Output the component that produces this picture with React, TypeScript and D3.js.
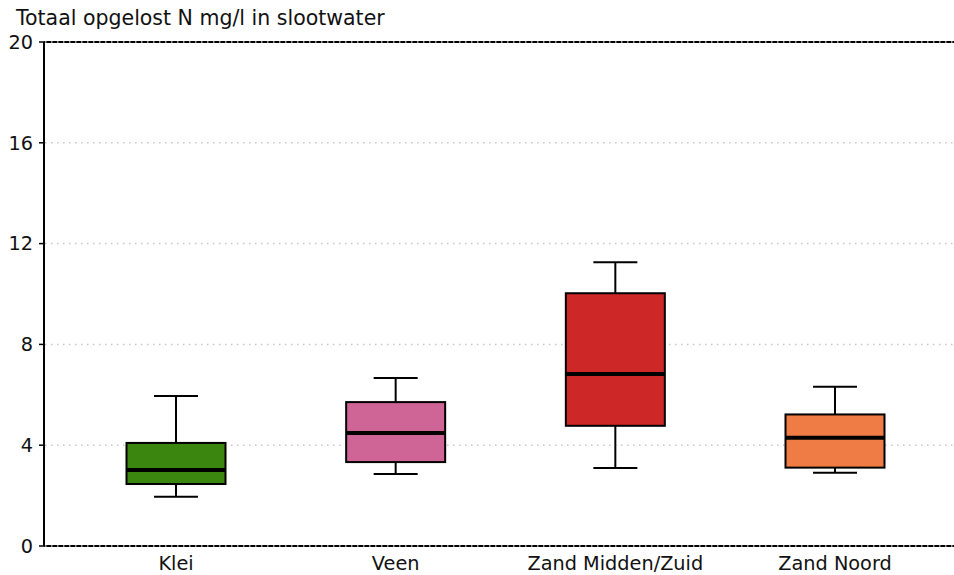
import React from "react";
import * as d3 from "d3";

const categories = ["Klei", "Veen", "Zand Midden/Zuid", "Zand Noord"];
const whiskerLow = [1.95, 2.86, 3.1, 2.91];
const q1 = [2.46, 3.33, 4.77, 3.11];
const median = [3.02, 4.48, 6.83, 4.3];
const q3 = [4.09, 5.71, 10.03, 5.22];
const whiskerHigh = [5.95, 6.67, 11.26, 6.32];
const colors = ["#3a860f", "#cf6496", "#cd2727", "#ef7b45"];
const yTicks = [0, 4, 8, 12, 16, 20];
const title = "Totaal opgelost N mg/l in slootwater";

export default function App() {
  const W = 954, H = 575;
  const left = 44, right = 954, top = 42, bottom = 546;
  const y = d3.scaleLinear().domain([0, 20]).range([bottom, top]);
  const x = d3.scalePoint<string>().domain(categories).range([176, 835]);
  const boxW = 99, capW = 44;
  const font = "DejaVu Sans, sans-serif";
  return (
    <svg width={W} height={H} style={{ position: "absolute", left: 0, top: 0, background: "#fff" }}>
      <text x={16} y={25} fontFamily={font} fontSize={20.5} fill="#111">{title}</text>
      {/* spines */}
      <line x1={left} x2={left} y1={top} y2={bottom} stroke="#000" strokeWidth={2} />
      <line x1={left} x2={right} y1={top} y2={top} stroke="#000" strokeWidth={2} />
      <line x1={left} x2={right} y1={bottom} y2={bottom} stroke="#000" strokeWidth={2} />
      {/* grid */}
      {yTicks.map((t) => (
        <line key={"g" + t} x1={left + 1} x2={right} y1={y(t)} y2={y(t)} stroke="#c8c8c8" strokeWidth={1.5} strokeDasharray="1.5,4.5" />
      ))}
      {yTicks.map((t) => (
        <g key={"t" + t}>
          <line x1={left - 5} x2={left} y1={y(t)} y2={y(t)} stroke="#000" strokeWidth={1.5} />
          <text x={33} y={y(t)} dy="0.35em" textAnchor="end" fontFamily={font} fontSize={19.3} fill="#111">{t}</text>
        </g>
      ))}
      {categories.map((c, i) => {
        const cx = x(c) as number;
        return (
          <g key={c}>
            <line x1={cx} x2={cx} y1={y(whiskerLow[i])} y2={y(q1[i])} stroke="#000" strokeWidth={2} />
            <line x1={cx} x2={cx} y1={y(q3[i])} y2={y(whiskerHigh[i])} stroke="#000" strokeWidth={2} />
            <line x1={cx - capW / 2} x2={cx + capW / 2} y1={y(whiskerLow[i])} y2={y(whiskerLow[i])} stroke="#000" strokeWidth={2} />
            <line x1={cx - capW / 2} x2={cx + capW / 2} y1={y(whiskerHigh[i])} y2={y(whiskerHigh[i])} stroke="#000" strokeWidth={2} />
            <rect x={cx - boxW / 2} y={y(q3[i])} width={boxW} height={y(q1[i]) - y(q3[i])} fill={colors[i]} stroke="#000" strokeWidth={2} />
            <line x1={cx - boxW / 2} x2={cx + boxW / 2} y1={y(median[i])} y2={y(median[i])} stroke="#000" strokeWidth={4} />
            <text x={cx} y={570} textAnchor="middle" fontFamily={font} fontSize={19.3} fill="#111">{c}</text>
          </g>
        );
      })}
    </svg>
  );
}
